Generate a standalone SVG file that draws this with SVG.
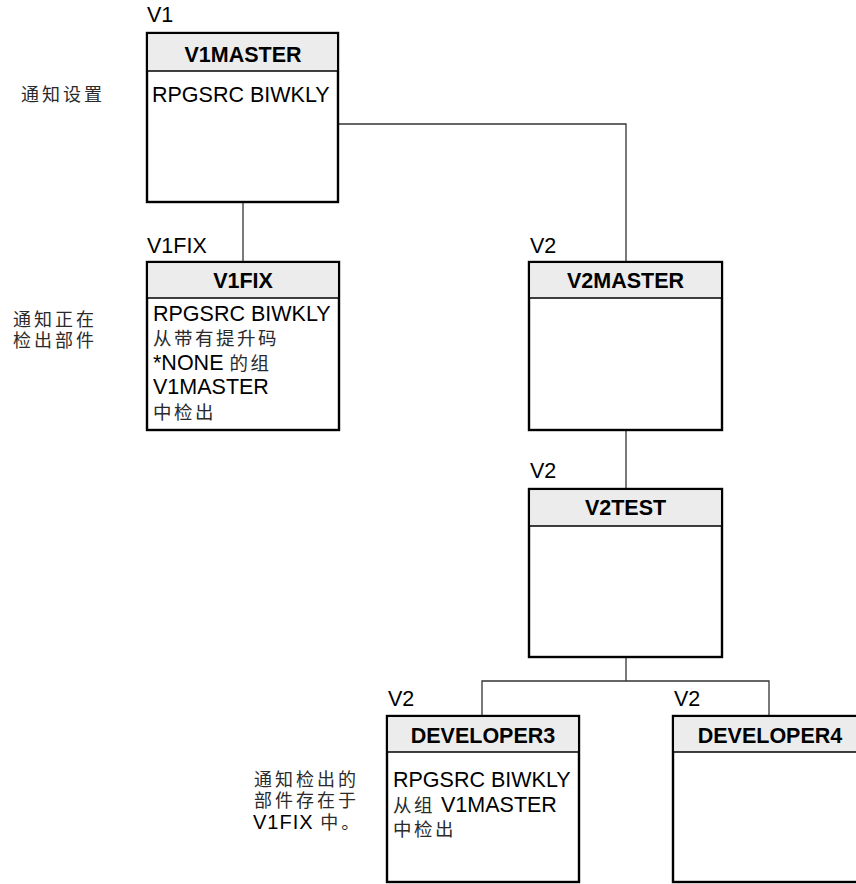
<svg xmlns="http://www.w3.org/2000/svg" width="856" height="884" viewBox="0 0 856 884">
<style>
.box{fill:#fff;stroke:#000;stroke-width:2.4}
.hdr{fill:#ececec;stroke:none}
.sep{stroke:#000;stroke-width:1.3}
.conn{fill:none;stroke:#333;stroke-width:1.3}
text{font-family:"Liberation Sans","Noto Sans CJK SC",Arial,sans-serif;font-size:21.5px;fill:#000}
.h{font-weight:bold;text-anchor:middle}
.c{font-size:18.5px;letter-spacing:2.5px;fill:#2a2a2a}
.l{font-size:18px;letter-spacing:3px;fill:#2a2a2a}
.n{font-size:20px;letter-spacing:1px;fill:#000}
</style>
<rect width="856" height="884" fill="#fff"/>
<g id="connectors">
<polyline class="conn" points="338,124 626,124 626,262"/>
<line class="conn" x1="243" y1="202" x2="243" y2="262"/>
<line class="conn" x1="626" y1="430" x2="626" y2="489"/>
<line class="conn" x1="626" y1="657" x2="626" y2="681"/>
<polyline class="conn" points="482,716 482,681 769,681 769,716"/>
</g>
<g id="v1master">
<text x="147" y="22">V1</text>
<rect class="box" x="147" y="33" width="191" height="169"/>
<rect class="hdr" x="148.2" y="34.2" width="188.6" height="36.8"/>
<line class="sep" x1="147" y1="71" x2="338" y2="71"/>
<text class="h" x="243" y="61.5">V1MASTER</text>
<text x="152" y="101.5">RPGSRC BIWKLY</text>
<text class="l" x="21" y="101">通知设置</text>
</g>
<g id="v1fix">
<text x="147" y="253">V1FIX</text>
<rect class="box" x="147" y="262" width="192" height="168"/>
<rect class="hdr" x="148.2" y="263.2" width="189.6" height="34.8"/>
<line class="sep" x1="147" y1="298" x2="339" y2="298"/>
<text class="h" x="243" y="287.5">V1FIX</text>
<text x="153" y="320.5">RPGSRC BIWKLY<tspan class="c" x="153" y="345">从带有提升码</tspan><tspan x="153" y="369.5">*NONE </tspan><tspan class="c">的组</tspan><tspan x="153" y="394">V1MASTER</tspan><tspan class="c" x="153" y="418.5">中检出</tspan></text>
<text class="l" x="13" y="326">通知正在<tspan x="13" y="346.5">检出部件</tspan></text>
</g>
<g id="v2master">
<text x="530" y="253">V2</text>
<rect class="box" x="529" y="262" width="193" height="168"/>
<rect class="hdr" x="530.2" y="263.2" width="190.6" height="34.8"/>
<line class="sep" x1="529" y1="298" x2="722" y2="298"/>
<text class="h" x="625.5" y="287.5">V2MASTER</text>
</g>
<g id="v2test">
<text x="530" y="478">V2</text>
<rect class="box" x="529" y="489" width="193" height="168"/>
<rect class="hdr" x="530.2" y="490.2" width="190.6" height="35.8"/>
<line class="sep" x1="529" y1="526" x2="722" y2="526"/>
<text class="h" x="625.5" y="515">V2TEST</text>
</g>
<g id="developer3">
<text x="388" y="706">V2</text>
<rect class="box" x="387" y="716" width="192" height="166"/>
<rect class="hdr" x="388.2" y="717.2" width="189.6" height="34.8"/>
<line class="sep" x1="387" y1="752" x2="579" y2="752"/>
<text class="h" x="483" y="743">DEVELOPER3</text>
<text x="393" y="787">RPGSRC BIWKLY<tspan class="c" x="393" y="811.5">从组</tspan><tspan> V1MASTER</tspan><tspan class="c" x="393" y="836">中检出</tspan></text>
<text class="l" x="254" y="786">通知检出的<tspan x="254" y="806.5">部件存在于</tspan><tspan class="n" x="253" y="829">V1FIX </tspan><tspan y="829">中。</tspan></text>
</g>
<g id="developer4">
<text x="674" y="706">V2</text>
<rect class="box" x="673" y="716" width="193" height="166"/>
<rect class="hdr" x="674.2" y="717.2" width="190.6" height="34.8"/>
<line class="sep" x1="673" y1="752" x2="866" y2="752"/>
<text class="h" x="770" y="743">DEVELOPER4</text>
</g>
</svg>
